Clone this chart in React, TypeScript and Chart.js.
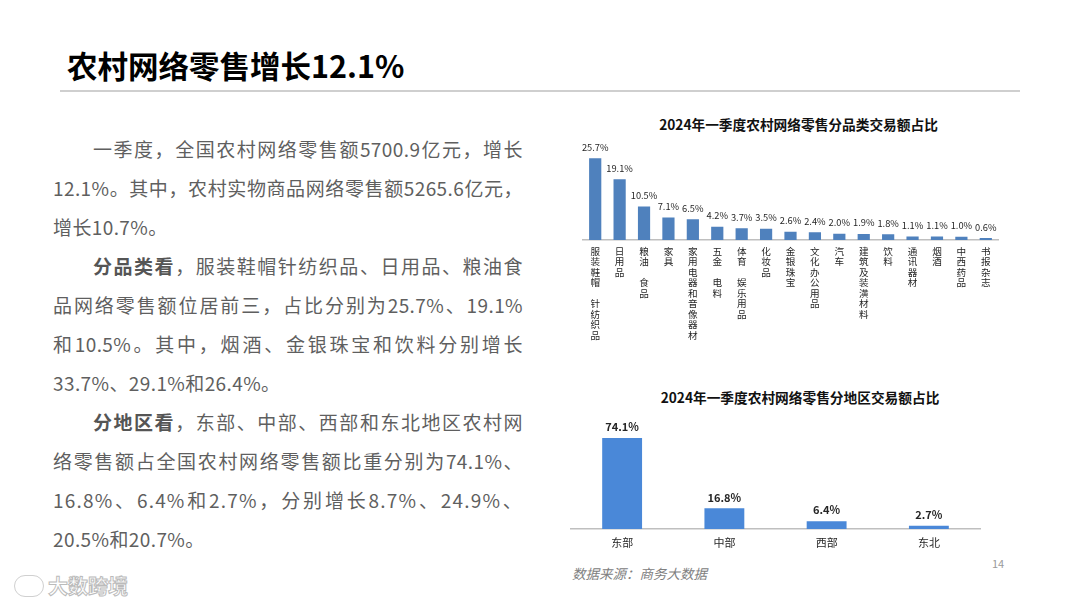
import React, { useEffect, useRef } from "react";
import { Chart, registerables } from "chart.js";

Chart.register(...registerables);

const FONT = '"Noto Sans CJK SC", "Noto Sans", sans-serif';

const pageTitle = "农村网络零售增长12.1%";

const categoryTitle = "2024年一季度农村网络零售分品类交易额占比";
const categoryLabels = [
  "服装鞋帽 针纺织品",
  "日用品",
  "粮油 食品",
  "家具",
  "家用电器和音像器材",
  "五金 电料",
  "体育 娱乐用品",
  "化妆品",
  "金银珠宝",
  "文化办公用品",
  "汽车",
  "建筑及装潢材料",
  "饮料",
  "通讯器材",
  "烟酒",
  "中西药品",
  "书报杂志",
];
const categoryShares = [25.7, 19.1, 10.5, 7.1, 6.5, 4.2, 3.7, 3.5, 2.6, 2.4, 2.0, 1.9, 1.8, 1.1, 1.1, 1.0, 0.6];

const regionTitle = "2024年一季度农村网络零售分地区交易额占比";
const regionLabels = ["东部", "中部", "西部", "东北"];
const regionShares = [74.1, 16.8, 6.4, 2.7];

const sourceNote = "数据来源：商务大数据";
const pageNumber = "14";

type Seg = { t: string; b?: boolean };
type Line = { segs: Seg[]; indent?: boolean; last?: boolean; ls?: number };

const bodyLines: Line[] = [
  { segs: [{ t: "一季度，全国农村网络零售额5700.9亿元，增长" }], indent: true },
  { segs: [{ t: "12.1%。其中，农村实物商品网络零售额5265.6亿元，" }] },
  { segs: [{ t: "增长10.7%。" }], last: true },
  { segs: [{ t: "分品类看", b: true }, { t: "，服装鞋帽针纺织品、日用品、粮油食" }], indent: true },
  { segs: [{ t: "品网络零售额位居前三，占比分别为25.7%、19.1%" }] },
  { segs: [{ t: "和10.5%。其中，烟酒、金银珠宝和饮料分别增长" }] },
  { segs: [{ t: "33.7%、29.1%和26.4%。" }], last: true },
  { segs: [{ t: "分地区看", b: true }, { t: "，东部、中部、西部和东北地区农村网" }], indent: true },
  { segs: [{ t: "络零售额占全国农村网络零售额比重分别为74.1%、" }] },
  { segs: [{ t: "16.8%、6.4%和2.7%，分别增长8.7%、24.9%、" }], ls: 1.2 },
  { segs: [{ t: "20.5%和20.7%。" }], last: true },
];

function valueLabelPlugin(id: string, font: string, color: string, offset: number) {
  return {
    id,
    afterDatasetsDraw(chart: any) {
      const ctx = chart.ctx;
      const meta = chart.getDatasetMeta(0);
      const data = chart.data.datasets[0].data as number[];
      ctx.save();
      ctx.font = font;
      ctx.fillStyle = color;
      ctx.textAlign = "center";
      ctx.textBaseline = "middle";
      meta.data.forEach((el: any, i: number) => {
        ctx.fillText(Number(data[i]).toFixed(1) + "%", el.x, el.y - offset);
      });
      ctx.restore();
    },
  };
}

type BarProps = {
  id: string;
  labels: (string | string[])[];
  values: number[];
  color: string;
  yMax: number;
  barPct: number;
  tickSize: number;
  tickLineHeight: number;
  tickPadding: number;
  axisHeight: number;
  padTop: number;
  padLeft: number;
  padRight: number;
  labelFont: string;
  labelOffset: number;
  style: React.CSSProperties;
};

function BarChart(p: BarProps) {
  const ref = useRef<HTMLCanvasElement | null>(null);
  useEffect(() => {
    if (!ref.current) return;
    const chart = new Chart(ref.current, {
      type: "bar",
      data: {
        labels: p.labels,
        datasets: [
          {
            data: p.values,
            backgroundColor: p.color,
            borderWidth: 0,
            categoryPercentage: 1,
            barPercentage: p.barPct,
          },
        ],
      },
      options: {
        animation: false,
        responsive: true,
        maintainAspectRatio: false,
        layout: { padding: { left: p.padLeft, right: p.padRight, top: p.padTop, bottom: 0 } },
        plugins: {
          legend: { display: false },
          tooltip: { enabled: false },
          title: { display: false },
        },
        scales: {
          x: {
            grid: { display: false, drawTicks: false },
            border: { display: true, color: "#bfbfbf", width: 1.5 },
            ticks: {
              autoSkip: false,
              maxRotation: 0,
              minRotation: 0,
              padding: p.tickPadding,
              color: "#262626",
              font: { family: FONT, size: p.tickSize, lineHeight: p.tickLineHeight },
            },
            afterFit: (scale: any) => {
              scale.height = p.axisHeight;
            },
          },
          y: {
            display: false,
            min: 0,
            max: p.yMax,
          },
        },
      },
      plugins: [valueLabelPlugin("vals-" + p.id, p.labelFont, "#262626", p.labelOffset)],
    } as any);
    return () => chart.destroy();
  }, []);
  return (
    <div style={{ position: "absolute", ...p.style }}>
      <canvas ref={ref} />
    </div>
  );
}

function verticalize(s: string): string[] {
  return s.split("").map((c) => (c === " " ? "" : c));
}

function ChartTitle({ text, cx, cy }: { text: string; cx: number; cy: number }) {
  return (
    <div
      style={{
        position: "absolute",
        left: cx - 200,
        width: 400,
        top: cy - 10,
        height: 20,
        lineHeight: "20px",
        textAlign: "center",
        fontSize: 13.7,
        fontWeight: "bold",
        color: "#111111",
        whiteSpace: "nowrap",
      }}
    >
      {text}
    </div>
  );
}

export default function App() {
  return (
    <div
      style={{
        position: "absolute",
        left: 0,
        top: 0,
        width: 1080,
        height: 608,
        background: "#ffffff",
        overflow: "hidden",
        fontFamily: FONT,
      }}
    >
      <div
        style={{
          position: "absolute",
          left: 67,
          top: 44,
          height: 42,
          lineHeight: "42px",
          fontSize: 30.5,
          fontWeight: "bold",
          color: "#000000",
          whiteSpace: "nowrap",
        }}
      >
        {pageTitle}
      </div>
      <div
        style={{
          position: "absolute",
          left: 60,
          top: 90,
          width: 960,
          height: 2,
          background: "#cfcfcf",
        }}
      />
      <div style={{ position: "absolute", left: 53, top: 128.5, width: 470 }}>
        {bodyLines.map((ln, i) => (
          <div
            key={i}
            style={{
              height: 39,
              lineHeight: "39px",
              fontSize: 19,
              letterSpacing: ln.ls ?? 0.4,
              color: "#5f5f5f",
              whiteSpace: "nowrap",
              textAlign: ln.last ? "left" : "justify",
              textAlignLast: ln.last ? "left" : "justify",
              paddingLeft: ln.indent ? 40 : 0,
            }}
          >
            {ln.segs.map((s, j) => (
              <span key={j} style={{ fontWeight: s.b ? "bold" : "normal", color: s.b ? "#555555" : undefined }}>
                {s.t}
              </span>
            ))}
          </div>
        ))}
      </div>

      <ChartTitle text={categoryTitle} cx={798.5} cy={124} />
      <BarChart
        id="category"
        labels={categoryLabels.map(verticalize)}
        values={categoryShares}
        color="#4f81bd"
        yMax={30.9}
        barPct={0.5}
        tickSize={9.6}
        tickLineHeight={1.09}
        tickPadding={6}
        axisHeight={108}
        padTop={33.6}
        padLeft={8}
        padRight={7}
        labelFont={"9.3px " + FONT}
        labelOffset={11}
        style={{ left: 575, top: 108, width: 430, height: 240 }}
      />

      <ChartTitle text={regionTitle} cx={800} cy={397} />
      <BarChart
        id="region"
        labels={regionLabels}
        values={regionShares}
        color="#4a88d8"
        yMax={92.3}
        barPct={0.39}
        tickSize={11}
        tickLineHeight={1.2}
        tickPadding={7}
        axisHeight={25}
        padTop={33.6}
        padLeft={6}
        padRight={10}
        labelFont={"bold 11px " + FONT}
        labelOffset={11}
        style={{ left: 565, top: 382, width: 425, height: 172 }}
      />

      <div
        style={{
          position: "absolute",
          left: 572,
          top: 563,
          fontSize: 13.5,
          lineHeight: "20px",
          fontStyle: "italic",
          color: "#808080",
          whiteSpace: "nowrap",
        }}
      >
        {sourceNote}
      </div>
      <div
        style={{
          position: "absolute",
          left: 992,
          top: 555,
          fontSize: 11,
          lineHeight: "16px",
          color: "#9a9a9a",
        }}
      >
        {pageNumber}
      </div>

      <div
        style={{
          position: "absolute",
          left: 14,
          top: 572,
          display: "flex",
          alignItems: "center",
          gap: 4,
          opacity: 0.85,
        }}
      >
        <div
          style={{
            width: 30,
            height: 22,
            borderRadius: 11,
            border: "1.5px solid #c8c8c8",
            boxSizing: "border-box",
          }}
        />
        <div
          style={{
            fontSize: 20,
            fontWeight: "bold",
            color: "#ffffff",
            WebkitTextStroke: "1px #b0b0b0",
            lineHeight: "28px",
            whiteSpace: "nowrap",
          }}
        >
          大数跨境
        </div>
      </div>
    </div>
  );
}
